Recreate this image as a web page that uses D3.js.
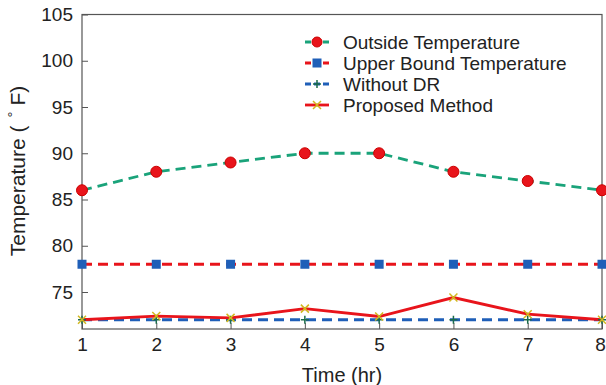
<!DOCTYPE html>
<html>
<head>
<meta charset="utf-8">
<script src="https://cdn.jsdelivr.net/npm/d3@7"></script>
<style>
    body { margin: 0; background: #fff; }
    svg { display: block; font-family: "Liberation Sans", Arial, sans-serif; }
</style>
</head>
<body>
<div id="view"></div>
<script>
const hours = [1, 2, 3, 4, 5, 6, 7, 8];
const outsideTemp = [86, 88, 89, 90, 90, 88, 87, 86];
const upperBound = [78, 78, 78, 78, 78, 78, 78, 78];
const withoutDR = [72, 72, 72, 72, 72, 72, 72, 72];
const proposed = [72, 72.4, 72.2, 73.2, 72.35, 74.4, 72.6, 72];
const yTicks = [75, 80, 85, 90, 95, 100, 105];
const seriesNames = ['Outside Temperature', 'Upper Bound Temperature', 'Without DR', 'Proposed Method'];

const width = 606;
const height = 385;
const margin = {top: 14.5, left: 82, right: 4, bottom: 56};
const w = width - margin.left - margin.right;
const h = height - margin.top - margin.bottom;

const svg = d3.select('#view')
    .append('svg')
        .attr('width', width)
        .attr('height', height)
    .append('g')
        .attr('transform', `translate(${margin.left},${margin.top})`);

const x = d3.scaleLinear().domain([1, 8]).range([0, w]);
const y = d3.scaleLinear().domain([71, 105]).range([h, 0]);

// axes, ticks inward
const xAxis = svg.append('g')
    .attr('transform', `translate(0,${h})`)
    .call(d3.axisBottom(x).tickValues(hours).tickSize(-6).tickPadding(9).tickFormat(d3.format('d')));
const yAxis = svg.append('g')
    .call(d3.axisLeft(y).tickValues(yTicks).tickSize(-6).tickPadding(9));
[xAxis, yAxis].forEach(a => {
    a.select('.domain').remove();
    a.selectAll('line').attr('stroke', '#555');
    a.selectAll('text').attr('font-size', 19).attr('fill', '#222');
});
// last label sits right at the window edge
xAxis.selectAll('text').filter(d => d == 8).attr('dx', -2);

// frame
svg.append('rect')
    .attr('width', w).attr('height', h)
    .attr('fill', 'none').attr('stroke', '#555').attr('stroke-width', 1.2);

// axis labels
svg.append('text')
    .attr('x', w / 2).attr('y', h + 53)
    .attr('text-anchor', 'middle').attr('font-size', 20).attr('fill', '#222')
    .text('Time (hr)');
const yl = svg.append('text')
    .attr('transform', `translate(${25 - margin.left},${171 - margin.top}) rotate(-90)`)
    .attr('text-anchor', 'middle').attr('font-size', 21).attr('fill', '#222');
yl.append('tspan').text('Temperature (');
yl.append('tspan').attr('font-size', 15).attr('dx', 8).attr('dy', -7).text('\u00B0');
yl.append('tspan').attr('dx', 6).attr('dy', 7).text('F)');

const line = d3.line().x((d, i) => x(hours[i])).y(d => y(d));

const green = '#1aa37a';
const red = '#e8141b';
const blue = '#1f5fb8';
const yellow = '#d2b81e';

const plot = svg.append('g');

function drawLine(data, color, dash) {
    plot.append('path')
        .datum(data)
        .attr('fill', 'none')
        .attr('stroke', color)
        .attr('stroke-width', 2.8)
        .attr('stroke-dasharray', dash)
        .attr('d', line);
}

drawLine(outsideTemp, green, '10,6');
drawLine(upperBound, red, '10,6');
drawLine(withoutDR, blue, '10,6');
drawLine(proposed, red, null);

function circles(data, color) {
    plot.selectAll(null).data(data).join('circle')
        .attr('cx', (d, i) => x(hours[i])).attr('cy', d => y(d))
        .attr('r', 5.5).attr('fill', color).attr('stroke', '#c00');
}
function squares(data, color) {
    plot.selectAll(null).data(data).join('rect')
        .attr('x', (d, i) => x(hours[i]) - 4.5).attr('y', d => y(d) - 4.5)
        .attr('width', 9).attr('height', 9).attr('fill', color);
}
function pluses(data, color) {
    plot.selectAll(null).data(data).join('path')
        .attr('d', (d, i) => {
            const cx = x(hours[i]), cy = y(d);
            return `M${cx - 4},${cy}H${cx + 4}M${cx},${cy - 4}V${cy + 4}`;
        })
        .attr('stroke', color).attr('stroke-width', 1.5);
}
function crosses(data, color) {
    plot.selectAll(null).data(data).join('path')
        .attr('d', (d, i) => {
            const cx = x(hours[i]), cy = y(d);
            return `M${cx - 4},${cy - 4}L${cx + 4},${cy + 4}M${cx - 4},${cy + 4}L${cx + 4},${cy - 4}`;
        })
        .attr('stroke', color).attr('stroke-width', 1.5);
}

circles(outsideTemp, red);
squares(upperBound, blue);
pluses(withoutDR, '#1b6b4a');
crosses(proposed, yellow);

// legend
const legend = svg.append('g').attr('transform', `translate(${305 - margin.left},${42 - margin.top})`);
const legendStyles = [
    {color: green, dash: '6,3', marker: 'circle', mcolor: red},
    {color: red, dash: '6,3', marker: 'square', mcolor: blue},
    {color: blue, dash: '6,3', marker: 'plus', mcolor: '#1b6b4a'},
    {color: red, dash: null, marker: 'cross', mcolor: yellow}
];
seriesNames.forEach((name, i) => {
    const g = legend.append('g').attr('transform', `translate(0,${i * 21})`);
    g.append('line').attr('x1', 0).attr('x2', 24)
        .attr('stroke', legendStyles[i].color).attr('stroke-width', 2.8)
        .attr('stroke-dasharray', legendStyles[i].dash);
    const m = legendStyles[i].marker;
    const mc = legendStyles[i].mcolor;
    if (m == 'circle') {
        g.append('circle').attr('cx', 12).attr('r', 5).attr('fill', mc).attr('stroke', '#c00');
    } else if (m == 'square') {
        g.append('rect').attr('x', 7.5).attr('y', -4.5).attr('width', 9).attr('height', 9).attr('fill', mc);
    } else if (m == 'plus') {
        g.append('path').attr('d', 'M8,0H16M12,-4V4').attr('stroke', mc).attr('stroke-width', 1.5);
    } else {
        g.append('path').attr('d', 'M8,-4L16,4M8,4L16,-4').attr('stroke', mc).attr('stroke-width', 1.5);
    }
    g.append('text').attr('x', 38).attr('y', 7)
        .attr('font-size', 19).attr('fill', '#222').text(name);
});
</script>
</body>
</html>
